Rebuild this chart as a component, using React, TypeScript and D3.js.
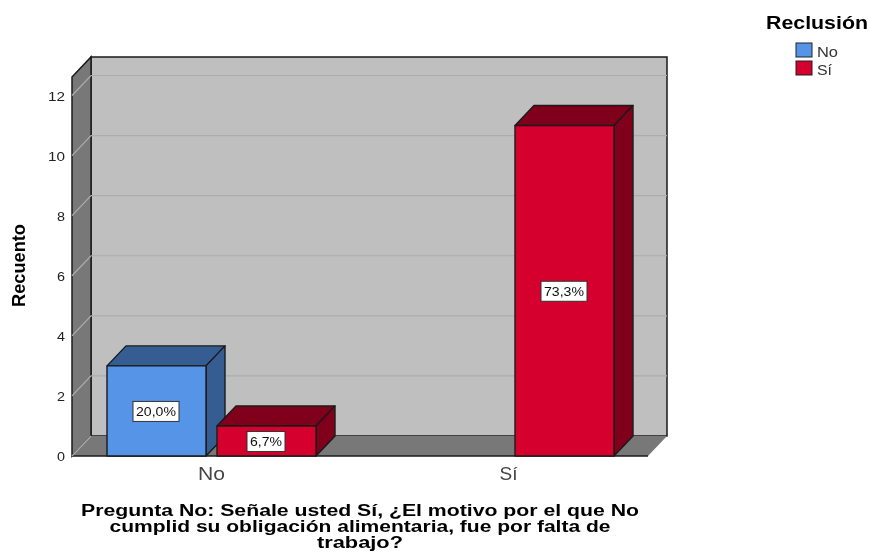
import React from "react";
import * as d3 from "d3";

const categories = ["No", "Sí"];
const seriesNames = ["No", "Sí"];
const countsNo = [3, 0];
const countsSi = [1, 11];
const labelsNo = ["20,0%", ""];
const labelsSi = ["6,7%", "73,3%"];
const yTicks = [0, 2, 4, 6, 8, 10, 12];
const titleLines = [
  "Pregunta No: Señale usted Sí, ¿El motivo por el que No",
  "cumplid su obligación alimentaria, fue por falta de",
  "trabajo?",
];
const titleWidths = [558, 501, 86];

const W = 870, H = 554;
const DX = 19, DY = -20;
const colors: Record<string, { front: string; dark: string }> = {
  No: { front: "#5494e6", dark: "#345d91" },
  Sí: { front: "#d5002e", dark: "#80001e" },
};
const line = "#1a1a1a";
const sans = "'Liberation Sans', sans-serif";

export default function App() {
  const y = d3.scaleLinear().domain([0, 12]).range([456, 95.5]);
  const x0 = d3.scaleBand<string>().domain(categories).range([62.5, 658.5]);
  const x1 = d3.scaleBand<string>().domain(seriesNames).range([0, 209]).paddingInner(0.1);
  const frontL = 72, frontR = 648, floor = y(0), topFront = 77;
  const pts = (a: number[][]) => a.map((p) => p.join(",")).join(" ");
  const bars = categories.flatMap((c, i) =>
    seriesNames.map((s, j) => {
      const v = (j === 0 ? countsNo : countsSi)[i];
      const label = (j === 0 ? labelsNo : labelsSi)[i];
      return { c, s, v, label, x: x0(c)! + x0.bandwidth() / 2 - 104.5 + x1(s)! };
    })
  ).filter((b) => b.v > 0);
  const bw = x1.bandwidth();
  return (
    <svg width={W} height={H} style={{ position: "absolute", left: 0, top: 0, background: "#fff" }}>
      <defs>
        <filter id="soft" x="0" y="0" width="100%" height="100%">
          <feGaussianBlur stdDeviation="0.35" />
        </filter>
      </defs>
      <g filter="url(#soft)">
        <rect width={W} height={H} fill="#fff" />
        {/* back wall */}
        <rect x={frontL + DX} y={topFront + DY} width={frontR - frontL} height={floor - topFront} fill="#bfbfbf" stroke={line} strokeWidth={1.5} />
        {/* left wall */}
        <polygon points={pts([[frontL, topFront], [frontL + DX, topFront + DY], [frontL + DX, floor + DY], [frontL, floor]])} fill="#787878" stroke={line} strokeWidth={1.5} />
        {/* floor */}
        <polygon points={pts([[frontL, floor], [frontL + DX, floor + DY], [frontR + DX, floor + DY], [frontR, floor]])} fill="#787878" />
        <line x1={frontL} x2={frontR} y1={floor} y2={floor} stroke={line} strokeWidth={1.5} />
        {/* gridlines */}
        {yTicks.filter((t) => t > 0).map((t) => (
          <polyline key={t} points={pts([[frontL, y(t)], [frontL + DX, y(t) + DY], [frontR + DX, y(t) + DY]])} stroke="#adadad" strokeWidth={1.2} fill="none" />
        ))}
        <line x1={frontL} x2={frontL + DX} y1={floor} y2={floor + DY} stroke="#adadad" strokeWidth={1.2} />
        {/* axis tick labels */}
        {yTicks.map((t) => (
          <text key={t} x={65} y={y(t) + 5} textAnchor="end" fontFamily={sans} fontSize={12.5} fill="#222" textLength={t >= 10 ? 17 : 8} lengthAdjust="spacingAndGlyphs">{t}</text>
        ))}
        {/* bars */}
        {bars.map((b) => {
          const top = y(b.v);
          const c = colors[b.s];
          return (
            <g key={b.c + b.s} stroke={line} strokeWidth={1.4} strokeLinejoin="round">
              <polygon points={pts([[b.x, top], [b.x + DX, top + DY], [b.x + bw + DX, top + DY], [b.x + bw, top]])} fill={c.dark} />
              <polygon points={pts([[b.x + bw, top], [b.x + bw + DX, top + DY], [b.x + bw + DX, floor + DY], [b.x + bw, floor]])} fill={c.dark} />
              <rect x={b.x} y={top} width={bw} height={floor - top} fill={c.front} />
            </g>
          );
        })}
        {/* value labels */}
        {bars.map((b) => {
          const top = y(b.v);
          const cx = b.x + bw / 2 - 0.5;
          const cy = (top + floor) / 2 + 0.5;
          const long = b.label.length > 4;
          const w = long ? 46 : 38;
          return (
            <g key={"l" + b.c + b.s}>
              <rect x={cx - w / 2} y={cy - 10} width={w} height={20} fill="#fff" stroke="#333" strokeWidth={1} />
              <text x={cx} y={cy + 4.5} textAnchor="middle" fontFamily={sans} fontSize={12.5} fill="#111" textLength={long ? 40 : 32} lengthAdjust="spacingAndGlyphs">{b.label}</text>
            </g>
          );
        })}
        {/* category labels */}
        {categories.map((c) => (
          <text key={c} x={x0(c)! + x0.bandwidth() / 2 - (c === "Sí" ? 1 : 0)} y={480} textAnchor="middle" fontFamily={sans} fontSize={18.5} fill="#444" textLength={c === "No" ? 27 : 18} lengthAdjust="spacingAndGlyphs">{c}</text>
        ))}
        {/* axis titles */}
        <text transform="translate(24.5,265.5) rotate(-90)" textAnchor="middle" fontFamily={sans} fontWeight="bold" fontSize={18.5} fill="#000" textLength={83} lengthAdjust="spacingAndGlyphs">Recuento</text>
        {titleLines.map((t, i) => (
          <text key={i} x={360} y={516 + i * 15.8} textAnchor="middle" fontFamily={sans} fontWeight="bold" fontSize={16} fill="#000" textLength={titleWidths[i]} lengthAdjust="spacingAndGlyphs">{t}</text>
        ))}
        {/* legend */}
        <text x={766} y={29} fontFamily={sans} fontWeight="bold" fontSize={18} fill="#000" textLength={102} lengthAdjust="spacingAndGlyphs">Reclusión</text>
        {seriesNames.map((s, i) => (
          <g key={s}>
            <rect x={796} y={43 + i * 18} width={16} height={14} fill={colors[s].front} stroke="#222" strokeWidth={1} />
            <text x={817} y={57 + i * 17.5} fontFamily={sans} fontSize={14.5} fill="#333" textLength={s === "No" ? 21 : 15} lengthAdjust="spacingAndGlyphs">{s}</text>
          </g>
        ))}
      </g>
    </svg>
  );
}
